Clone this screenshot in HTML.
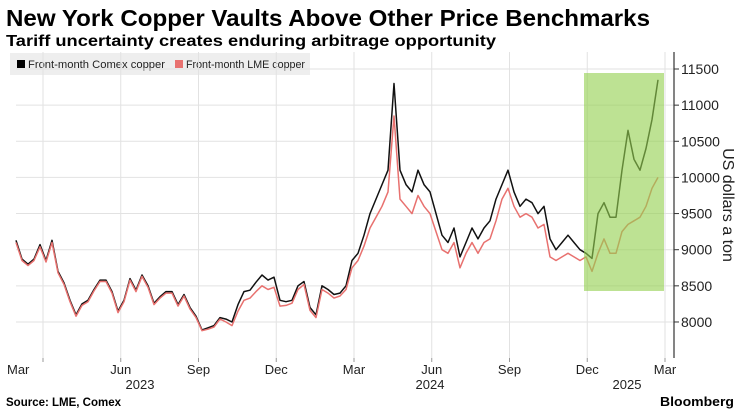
<!DOCTYPE html>
<html><head><meta charset="utf-8"><style>
body{margin:0;background:#fff;font-family:"Liberation Sans",sans-serif;}
svg text{font-family:"Liberation Sans",sans-serif;}
</style></head><body>
<svg width="756" height="414">
<text x="6" y="26" font-size="23" font-weight="bold" fill="#000" textLength="644" lengthAdjust="spacingAndGlyphs">New York Copper Vaults Above Other Price Benchmarks</text>
<text x="6" y="46" font-size="16" font-weight="bold" fill="#000" textLength="490" lengthAdjust="spacingAndGlyphs">Tariff uncertainty creates enduring arbitrage opportunity</text>
<g>
<rect x="10" y="53" width="300" height="22" fill="#eeeeee"/>
<rect x="17" y="60" width="8" height="8" fill="#000"/>
<text x="28" y="68" font-size="11" fill="#222" textLength="137" lengthAdjust="spacingAndGlyphs">Front-month Comex copper</text>
<rect x="175" y="60" width="8" height="8" fill="#e8716f"/>
<text x="186" y="68" font-size="11" fill="#222" textLength="119" lengthAdjust="spacingAndGlyphs">Front-month LME copper</text>
</g>
<g id="grid"></g>
<g id="lines"></g>
<rect x="584" y="73" width="80" height="218" fill="#94d050" opacity="0.62"/>
<line x1="674" y1="52" x2="674" y2="358" stroke="#333" stroke-width="1.2"/>
<g id="yticks"></g>
<text transform="translate(723,205) rotate(90)" font-size="16" text-anchor="middle" fill="#222">US dollars a ton</text>
<g id="xticks"></g>
<text x="6" y="406" font-size="11.5" font-weight="bold" fill="#000">Source: LME, Comex</text>
<text x="660" y="406" font-size="13" font-weight="bold" fill="#000" textLength="74" lengthAdjust="spacingAndGlyphs">Bloomberg</text>
</svg>
<script>
const comex=[9130,8870,8800,8870,9070,8850,9130,8700,8540,8300,8100,8250,8300,8450,8580,8580,8420,8150,8300,8600,8440,8650,8500,8260,8350,8420,8420,8240,8380,8200,8080,7890,7920,7950,8060,8040,8000,8240,8420,8440,8550,8650,8580,8620,8300,8280,8300,8500,8560,8200,8100,8500,8450,8380,8400,8500,8850,8950,9200,9500,9700,9900,10100,11300,10100,9900,9800,10100,9900,9800,9500,9200,9100,9300,8900,9100,9300,9150,9300,9400,9700,9900,10100,9800,9600,9700,9650,9500,9600,9150,9000,9100,9200,9100,9000,8950,8880,9500,9650,9450,9450,10100,10650,10250,10100,10400,10800,11350];
const lme=[9100,8850,8780,8850,9040,8830,9100,8680,8520,8280,8080,8230,8280,8430,8560,8560,8400,8130,8280,8580,8420,8630,8480,8240,8330,8400,8400,8220,8360,8180,8060,7880,7900,7930,8040,8000,7950,8150,8300,8330,8420,8500,8450,8480,8220,8230,8260,8450,8520,8160,8060,8450,8400,8330,8360,8450,8750,8850,9050,9300,9450,9600,9800,10850,9700,9600,9500,9750,9600,9500,9250,9000,8950,9100,8750,8950,9100,8950,9100,9150,9400,9700,9850,9600,9450,9500,9450,9300,9350,8900,8850,8900,8950,8900,8850,8900,8700,8950,9150,8950,8950,9250,9350,9400,9450,9600,9850,10000];
const yTicks=[8000,8500,9000,9500,10000,10500,11000,11500];
const xMonths=["Mar","Jun","Sep","Dec","Mar","Jun","Sep","Dec","Mar"];
const xYears=["2023","2024","2025"];
const NS="http://www.w3.org/2000/svg";
function y(v){return 69+(11500-v)/500*36.14;}
function x(i){return 16+i*6;}
function qx(q){return 43+q*77.75;}
function mk(t,a,p){const e=document.createElementNS(NS,t);for(const k in a)e.setAttribute(k,a[k]);document.getElementById(p).appendChild(e);return e;}
yTicks.forEach(v=>{
 let g=mk('line',{x1:16,x2:674,y1:y(v),y2:y(v),stroke:'#e2e2e2','stroke-width':1},'grid');
 
 
 let t=mk('line',{x1:674,x2:679,y1:y(v),y2:y(v),stroke:'#333'},'yticks');
 
 
 let l=mk('text',{x:681,y:y(v)+5,'font-size':14,fill:'#222'},'yticks');
 l.textContent=v;
 
 
});
xMonths.forEach((m,q)=>{
 let g=mk('line',{x1:qx(q),x2:qx(q),y1:52,y2:358,stroke:'#e2e2e2','stroke-width':1},'grid');
 
 
 let t=mk('line',{x1:qx(q),x2:qx(q),y1:358,y2:362,stroke:'#999'},'xticks');
 
 
 let l=mk('text',{x:q==0?7:qx(q),y:374,'font-size':13,fill:'#222','text-anchor':q==0?'start':'middle'},'xticks');
 l.textContent=m;
 
 
});
[140,430,627].forEach((px,k)=>{
 let l=mk('text',{x:px,y:389,'font-size':13,fill:'#222','text-anchor':'middle'},'xticks');
 l.textContent=xYears[k];
 
 
});
function path(arr,color,name){
 const d=arr.map((v,i)=>(i?'L':'M')+x(i).toFixed(1)+' '+y(v).toFixed(1)).join(' ');
 const p=mk('path',{d:d,fill:'none',stroke:color,'stroke-width':1.5,'stroke-linejoin':'round'},'lines');
 
 
}
path(comex,'#111','comex-line');
path(lme,'#e8716f','lme-line');
</script>
</body></html>
